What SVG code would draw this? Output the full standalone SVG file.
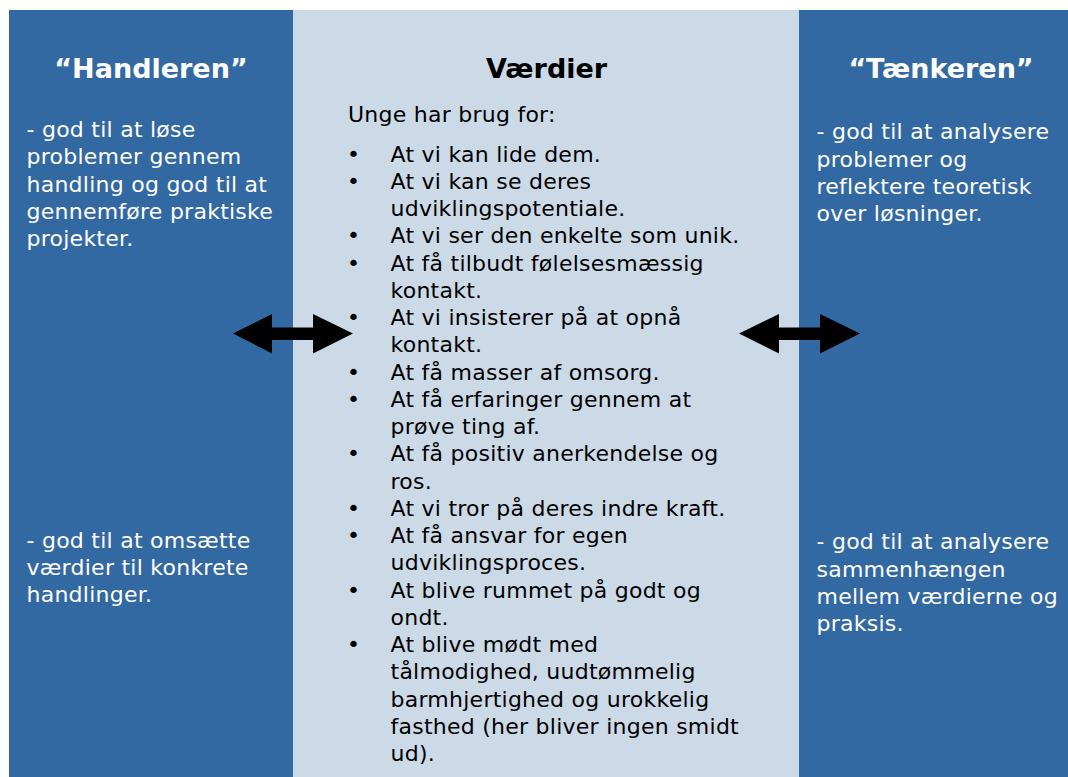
<svg xmlns="http://www.w3.org/2000/svg" width="1068" height="777" viewBox="0 0 1068 777">
  <style>
    .panel { fill: #3369A2; }
    .mid { fill: #CCDAE7; }
    .title { font-family: "DejaVu Sans", Verdana, sans-serif; font-weight: bold; font-size: 27px; text-anchor: middle; }
    .body { font-family: "DejaVu Sans", Verdana, sans-serif; font-size: 22px; letter-spacing: 0.25px; }
    .light { fill: #FFFFFF; }
    .dark { fill: #000000; }
    .arrow { fill: #000000; }
  </style>
  <rect x="0" y="0" width="1068" height="777" fill="#FFFFFF"/>

  <!-- Left column: Handleren -->
  <g id="handleren">
    <rect class="panel" x="9" y="10" width="284" height="767"/>
    <text class="title light" x="151" y="78">“Handleren”</text>
    <text class="body light">
      <tspan x="26.5" y="136.7">- god til at løse</tspan>
      <tspan x="26.5" y="164.1">problemer gennem</tspan>
      <tspan x="26.5" y="191.5">handling og god til at</tspan>
      <tspan x="26.5" y="218.9">gennemføre praktiske</tspan>
      <tspan x="26.5" y="246.3">projekter.</tspan>
    </text>
    <text class="body light">
      <tspan x="26.5" y="547.5">- god til at omsætte</tspan>
      <tspan x="26.5" y="574.8">værdier til konkrete</tspan>
      <tspan x="26.5" y="602.1">handlinger.</tspan>
    </text>
  </g>

  <!-- Middle column: Værdier -->
  <g id="vaerdier">
    <rect class="mid" x="293" y="10" width="506" height="767"/>
    <text class="title dark" x="546.5" y="78">Værdier</text>
    <text class="body dark" x="348" y="122.3">Unge har brug for:</text>
    <text class="body dark">
      <tspan x="347" y="161.7">•</tspan>
      <tspan x="347" y="188.9">•</tspan>
      <tspan x="347" y="243.4">•</tspan>
      <tspan x="347" y="270.6">•</tspan>
      <tspan x="347" y="325.1">•</tspan>
      <tspan x="347" y="379.6">•</tspan>
      <tspan x="347" y="406.8">•</tspan>
      <tspan x="347" y="461.3">•</tspan>
      <tspan x="347" y="515.8">•</tspan>
      <tspan x="347" y="543.0">•</tspan>
      <tspan x="347" y="597.5">•</tspan>
      <tspan x="347" y="652.0">•</tspan>
    </text>
    <text class="body dark">
      <tspan x="390.5" y="161.7">At vi kan lide dem.</tspan>
      <tspan x="390.5" y="188.9">At vi kan se deres</tspan>
      <tspan x="390.5" y="216.2">udviklingspotentiale.</tspan>
      <tspan x="390.5" y="243.4">At vi ser den enkelte som unik.</tspan>
      <tspan x="390.5" y="270.6">At få tilbudt følelsesmæssig</tspan>
      <tspan x="390.5" y="297.9">kontakt.</tspan>
      <tspan x="390.5" y="325.1">At vi insisterer på at opnå</tspan>
      <tspan x="390.5" y="352.4">kontakt.</tspan>
      <tspan x="390.5" y="379.6">At få masser af omsorg.</tspan>
      <tspan x="390.5" y="406.8">At få erfaringer gennem at</tspan>
      <tspan x="390.5" y="434.1">prøve ting af.</tspan>
      <tspan x="390.5" y="461.3">At få positiv anerkendelse og</tspan>
      <tspan x="390.5" y="488.6">ros.</tspan>
      <tspan x="390.5" y="515.8">At vi tror på deres indre kraft.</tspan>
      <tspan x="390.5" y="543.0">At få ansvar for egen</tspan>
      <tspan x="390.5" y="570.3">udviklingsproces.</tspan>
      <tspan x="390.5" y="597.5">At blive rummet på godt og</tspan>
      <tspan x="390.5" y="624.8">ondt.</tspan>
      <tspan x="390.5" y="652.0">At blive mødt med</tspan>
      <tspan x="390.5" y="679.2">tålmodighed, uudtømmelig</tspan>
      <tspan x="390.5" y="706.5">barmhjertighed og urokkelig</tspan>
      <tspan x="390.5" y="733.7">fasthed (her bliver ingen smidt</tspan>
      <tspan x="390.5" y="761.0">ud).</tspan>
    </text>
  </g>

  <!-- Right column: Tænkeren -->
  <g id="taenkeren">
    <rect class="panel" x="799" y="10" width="269" height="767"/>
    <text class="title light" x="941" y="78">“Tænkeren”</text>
    <text class="body light">
      <tspan x="816.5" y="139.3">- god til at analysere</tspan>
      <tspan x="816.5" y="166.5">problemer og</tspan>
      <tspan x="816.5" y="193.7">reflektere teoretisk</tspan>
      <tspan x="816.5" y="220.9">over løsninger.</tspan>
    </text>
    <text class="body light">
      <tspan x="816.5" y="549.3">- god til at analysere</tspan>
      <tspan x="816.5" y="576.6">sammenhængen</tspan>
      <tspan x="816.5" y="603.9">mellem værdierne og</tspan>
      <tspan x="816.5" y="631.2">praksis.</tspan>
    </text>
  </g>

  <!-- Double-headed arrows between the columns -->
  <g id="connectors">
    <polygon class="arrow" points="233,333.5 272,314 272,327.5 313,327.5 313,314 353,333.5 313,353.5 313,340 272,340 272,353.5"/>
    <polygon class="arrow" points="739,333.5 779,314 779,327.5 820,327.5 820,314 860,333.5 820,353.5 820,340 779,340 779,353.5"/>
  </g>
</svg>
